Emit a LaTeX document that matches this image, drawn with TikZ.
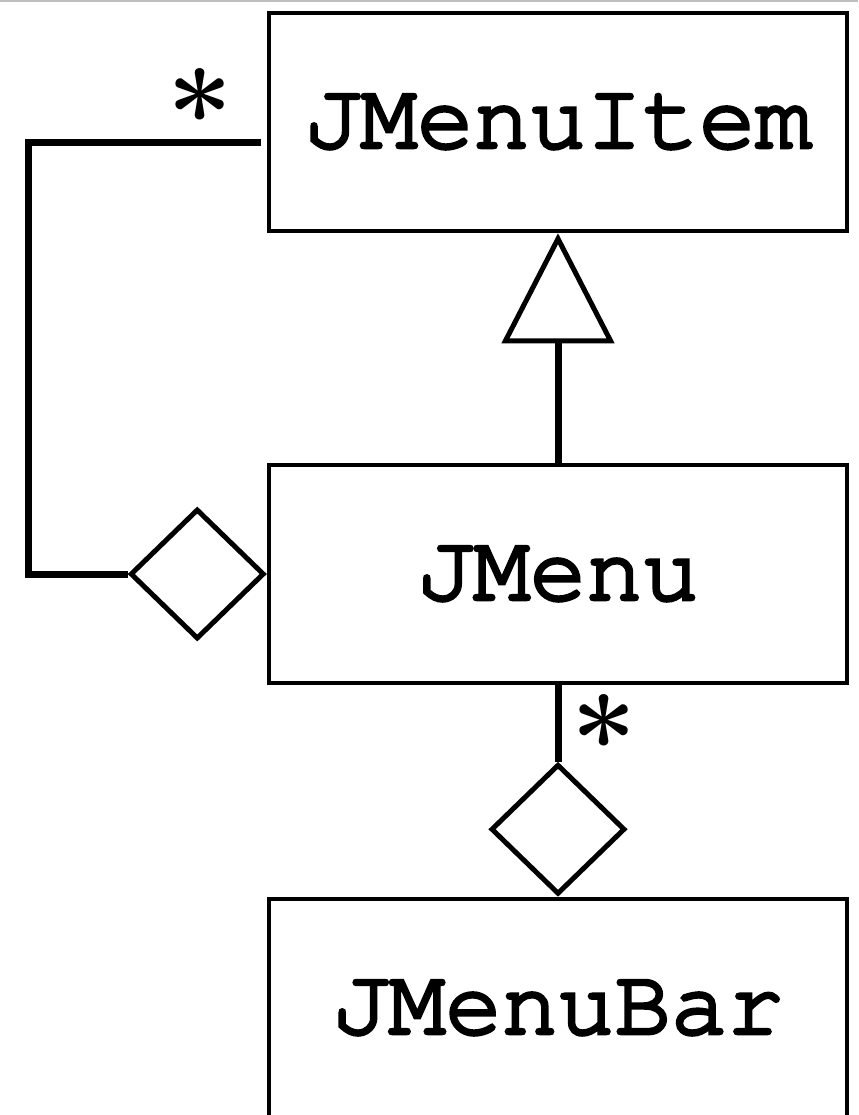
\documentclass[tikz,border=0pt]{standalone}
\usetikzlibrary{shapes.geometric,arrows.meta}
\newcommand\classfont{\fontencoding{T1}\fontfamily{pcr}\selectfont}
\newcommand\classname[1]{\special{pdf:literal direct 2 Tr 1.8 w}#1\special{pdf:literal direct 0 Tr}}

\begin{document}
\begin{tikzpicture}[x=0.5pt,y=-0.5pt]
% Styles
\tikzset{
  classbox/.style={draw, line width=2.25pt, minimum width=289pt, minimum height=109pt, inner sep=0pt,
    font=\fontsize{47}{50}\classfont},
  aggr/.style={draw, diamond, fill=white, line width=2.5pt, minimum width=67pt, minimum height=65pt, inner sep=0pt},
  link/.style={line width=3.5pt},
  mult/.style={inner sep=0pt, font=\fontsize{58}{60}\selectfont\bfseries},
}

% Page frame
\useasboundingbox (0,0) rectangle (858,1115);
\clip (0,0) rectangle (858,1115);
\draw[gray!50, line width=1pt] (0,1) -- (858,1);

% Classes
\node[classbox] (item) at (558,122) {\classname{JMenuItem}};
\node[classbox] (menu) at (558,574) {\classname{JMenu}};
\node[classbox] (bar) at (558,1008) {\classname{JMenuBar}};

% Diamonds
\node[aggr, anchor=east] (aggL) at (menu.west) {};
\node[aggr, anchor=south] (aggB) at (bar.north) {};

% Important positions
\coordinate (cornerL) at (28,142);
\coordinate (itemIn) at ([xshift=-3pt,yshift=-10pt]item.west);

% Inheritance
\draw[link, -{Triangle[open, length=55pt, width=56pt, line width=2.5pt]}] (menu.north) -- (item.south);

% Aggregations
\draw[link] (aggL.west) -| (cornerL) -- (itemIn);
\draw[link] (menu.south) -- (aggB.north);

% Multiplicities
\node[mult] (starL) at (200,112) {*};
\node[mult] (starB) at (604,738) {*};
\end{tikzpicture}
\end{document}
